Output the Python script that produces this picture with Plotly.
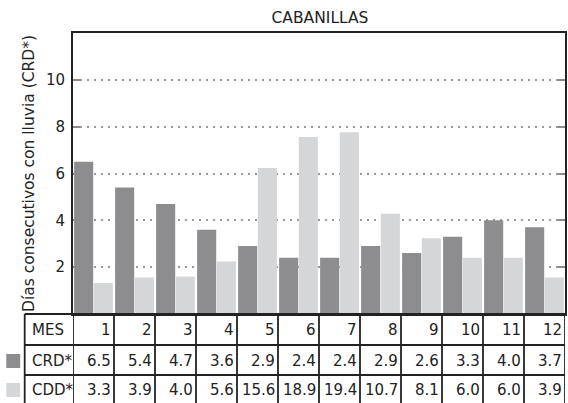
import plotly.graph_objects as go

months = [1, 2, 3, 4, 5, 6, 7, 8, 9, 10, 11, 12]
crd = [6.5, 5.4, 4.7, 3.6, 2.9, 2.4, 2.4, 2.9, 2.6, 3.3, 4.0, 3.7]
cdd = [3.3, 3.9, 4.0, 5.6, 15.6, 18.9, 19.4, 10.7, 8.1, 6.0, 6.0, 3.9]
cdd_scale = 2.5  # CDD* bars drawn on the CRD* axis, divided by this factor
y_ticks = [2, 4, 6, 8, 10]
title = "CABANILLAS"
y_title = "Días consecutivos con lluvia (CRD*)"
row_labels = ["MES", "CRD*", "CDD*"]

DARK = "#8d8d90"
LIGHT = "#d5d6d8"
INK = "#222222"
FONT = "DejaVu Sans"
FS = 15.5
FS_TAB = 15

W, H = 568, 403
L, R, T, B = 73, 1, 33, 89
PH = H - T - B
PW = W - L - R


def py(y):
    return 1 - (y - T) / PH


def px(x):
    return (x - L) / PW


fig = go.Figure()
fig.add_trace(go.Bar(x=months, y=crd, marker_color=DARK, marker_line_width=0, name="CRD*"))
fig.add_trace(go.Bar(x=months, y=[v / cdd_scale for v in cdd], marker_color=LIGHT,
                     marker_line_width=0, name="CDD*"))

shapes = []
line = dict(color=INK, width=1.8)
# horizontal table lines
for yy in [314, 345, 375]:
    shapes.append(dict(type="line", xref="paper", yref="paper", x0=px(24.5), x1=px(567),
                       y0=py(yy), y1=py(yy), line=line, layer="above"))
# vertical table lines
shapes.append(dict(type="line", xref="paper", yref="paper", x0=px(24.5), x1=px(24.5),
                   y0=py(314), y1=py(410), line=line))
for k in range(0, 13):
    shapes.append(dict(type="line", xref="x", yref="paper", x0=k + 0.5, x1=k + 0.5,
                       y0=py(314), y1=py(410), line=line))
# legend squares
shapes.append(dict(type="rect", xref="paper", yref="paper", x0=px(6), x1=px(20),
                   y0=py(368), y1=py(354), fillcolor=DARK, line_width=0))
shapes.append(dict(type="rect", xref="paper", yref="paper", x0=px(6), x1=px(20),
                   y0=py(397), y1=py(383), fillcolor=LIGHT, line_width=0))

annotations = []
row_y = [330, 361, 390]
rows = [[str(m) for m in months], [f"{v:.1f}" for v in crd], [f"{v:.1f}" for v in cdd]]
for lbl, yy in zip(row_labels, row_y):
    annotations.append(dict(text=lbl, xref="paper", yref="paper", x=px(29.5), y=py(yy),
                            xanchor="left", yanchor="middle", showarrow=False,
                            font=dict(family=FONT, size=FS_TAB, color=INK)))
for vals, yy in zip(rows, row_y):
    for m, v in zip(months, vals):
        annotations.append(dict(text=v, xref="x", yref="paper", x=m + 0.5, y=py(yy),
                                xanchor="right", yanchor="middle", xshift=-1, showarrow=False,
                                font=dict(family=FONT, size=FS_TAB, color=INK)))

fig.update_layout(
    width=W, height=H,
    margin=dict(l=L, r=R, t=T, b=B),
    plot_bgcolor="white", paper_bgcolor="white",
    barmode="group", bargap=0.04, bargroupgap=0.03,
    showlegend=False,
    title=dict(text=title, xref="container", x=320 / W, xanchor="center",
               yref="container", y=1 - 18 / H, yanchor="middle",
               font=dict(family=FONT, size=FS, color=INK)),
    font=dict(family=FONT, size=FS, color=INK),
    shapes=shapes, annotations=annotations,
)
fig.update_xaxes(range=[0.5, 12.5], showticklabels=False, showgrid=False, ticks="",
                 showline=True, linecolor=INK, linewidth=1.8, mirror=True, zeroline=False)
fig.update_yaxes(range=[0, 12], tickvals=y_ticks, showgrid=True, gridcolor="#9a9a9a",
                 griddash="2px,5px", gridwidth=1.5, ticks="inside", ticklen=7,
                 tickcolor="#8a8a8a", tickwidth=1.5,
                 showline=True, linecolor=INK, linewidth=1.8, mirror="ticks", zeroline=False,
                 ticklabelstandoff=3,
                 tickfont=dict(family=FONT, size=FS_TAB, color=INK),
                 title=dict(text=y_title, font=dict(family=FONT, size=FS, color=INK), standoff=8))

fig.write_html("out.html", config={"displayModeBar": False},
               post_script="document.body.style.margin='0';document.body.style.overflow='hidden';")
